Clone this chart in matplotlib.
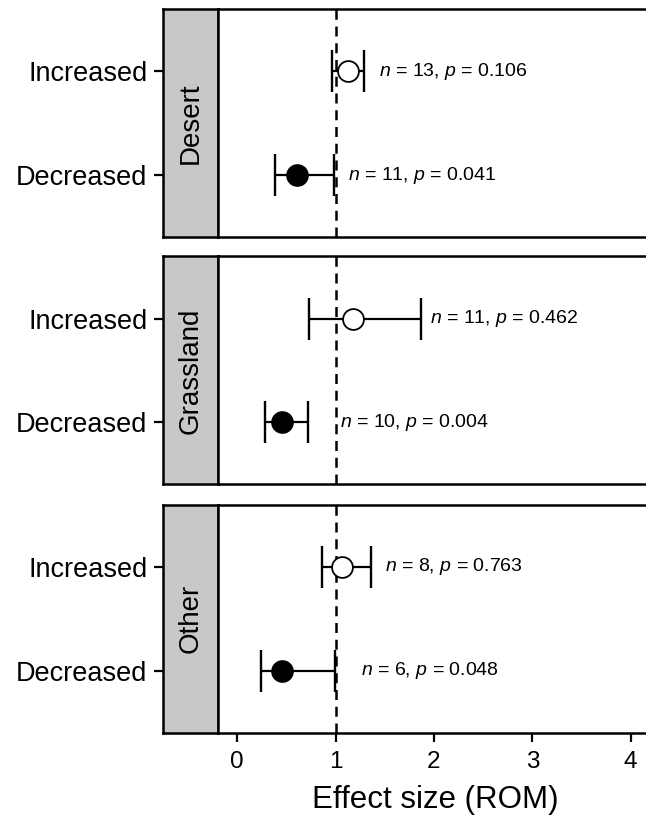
import matplotlib
matplotlib.use("Agg")
import matplotlib.pyplot as plt

plt.rcParams["font.family"] = ["Liberation Sans", "DejaVu Sans"]
plt.rcParams["mathtext.fontset"] = "custom"
plt.rcParams["mathtext.it"] = "Liberation Sans:italic"
plt.rcParams["mathtext.rm"] = "Liberation Sans"

# ── Data ──────────────────────────────────────────────────────
habitats = ["Desert", "Grassland", "Other"]
groups = ["Decreased", "Increased"]

# per habitat: [Decreased, Increased]
rom_mean = [[0.604, 1.129], [0.458, 1.173], [0.458, 1.068]]
ci_low = [[0.383, 0.966], [0.282, 0.732], [0.238, 0.864]]
ci_high = [[0.986, 1.291], [0.719, 1.865], [0.993, 1.356]]
n_obs = [[11, 13], [10, 11], [6, 8]]
p_val = [["0.041", "0.106"], ["0.004", "0.462"], ["0.048", "0.763"]]
label_x = [[1.122, 1.444], [1.044, 1.959], [1.255, 1.502]]

xticks = [0, 1, 2, 3, 4]

# ── Layout ────────────────────────────────────────────────────
fig = plt.figure(figsize=(6.46, 8.17), dpi=100)
panel_bottoms = [0.7096, 0.4072, 0.1032]
panel_h = 0.279
strip_left, strip_w = 0.2528, 0.0842
main_left, main_w = 0.337, 0.673

for i, hab in enumerate(habitats):
    b = panel_bottoms[i]
    sax = fig.add_axes([strip_left, b, strip_w, panel_h])
    ax = fig.add_axes([main_left, b, main_w, panel_h], sharey=sax)

    # strip
    sax.set_facecolor("#C8C8C8")
    sax.set_xticks([])
    sax.set_ylim(0.4, 2.6)
    sax.set_yticks([1, 2])
    sax.set_yticklabels(groups, fontsize=19.5)
    sax.tick_params(axis="y", length=6.5, width=1.6, pad=5, color="black")
    for s in sax.spines.values():
        s.set_linewidth(1.8)
    sax.text(0.5, 0.5, hab, rotation=90, fontsize=20,
             ha="center", va="center", transform=sax.transAxes)

    # panel
    for j, g in enumerate(groups):
        y = j + 1
        m = rom_mean[i][j]
        lo, hi = ci_low[i][j], ci_high[i][j]
        face = "black" if g == "Decreased" else "white"
        ax.errorbar(m, y, xerr=[[m - lo], [hi - m]], fmt="none",
                    ecolor="black", elinewidth=1.6, capsize=15,
                    capthick=1.7, zorder=3)
        ax.plot(m, y, "o", ms=15, mfc=face, mec="black", mew=1.3, zorder=4)
        ax.text(label_x[i][j], y,
                rf"$n$ = {n_obs[i][j]}, $p$ = {p_val[i][j]}",
                fontsize=14, ha="left", va="center", zorder=5)

    ax.axvline(1, color="black", lw=1.8, ls=(0, (4, 2.7)), zorder=2)
    ax.set_xlim(-0.199, 4.221)
    ax.tick_params(axis="y", left=False, labelleft=False)
    for s in ax.spines.values():
        s.set_linewidth(1.8)

    if i == len(habitats) - 1:
        ax.set_xticks(xticks)
        ax.set_xticklabels([str(t) for t in xticks], fontsize=17.5)
        ax.tick_params(axis="x", length=6.5, width=1.6, pad=6.5)
        ax.set_xlabel("Effect size (ROM)", fontsize=22.5, labelpad=9)
    else:
        ax.set_xticks([])

fig.savefig("out.png", dpi=100)
